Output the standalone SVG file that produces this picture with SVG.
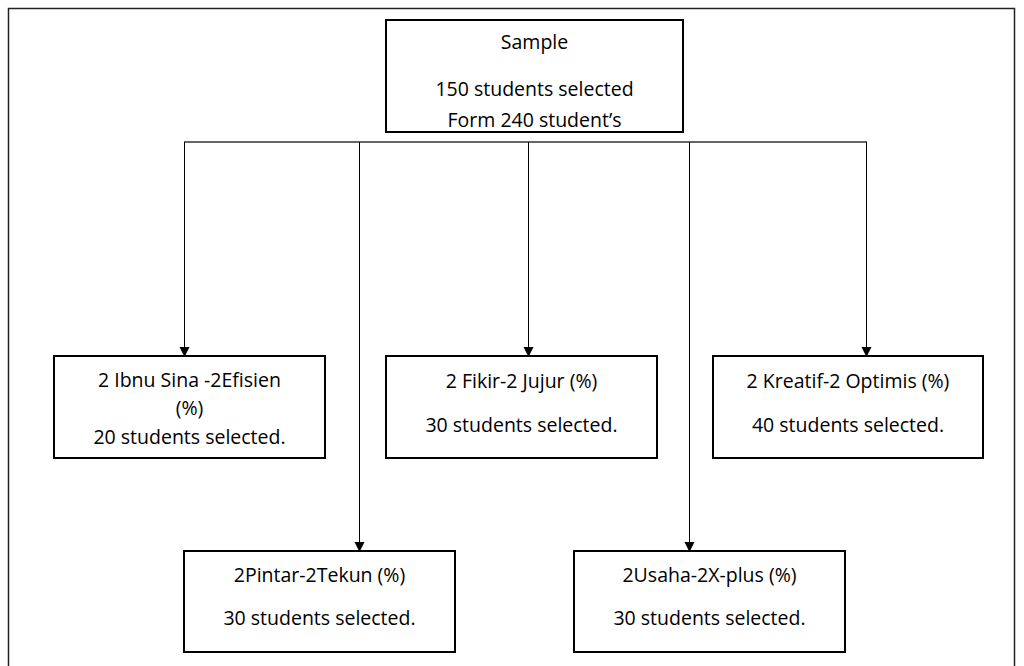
<svg xmlns="http://www.w3.org/2000/svg" width="1024" height="666" viewBox="0 0 1024 666">
<style>
.box{fill:#fff;stroke:#000;stroke-width:2}
.t{font-family:"Open Sans","Liberation Sans",sans-serif;font-size:19.5px;fill:#000;text-anchor:middle}
.c{fill:none;stroke:#000;stroke-width:1}
.h{fill:none;stroke:#666;stroke-width:2}
</style>
<defs>
<marker id="arr" markerWidth="10" markerHeight="11" refX="9" refY="5" orient="auto" markerUnits="userSpaceOnUse">
<path d="M0,0 L10,5 L0,10 z" fill="#000"/>
</marker>
</defs>
<rect x="0" y="0" width="1024" height="666" fill="#fff"/>
<path d="M8.5,670 V8.5 H1014.5 V670" fill="none" stroke="#222" stroke-width="1.5"/>
<g id="connectors">
<line class="h" x1="184" y1="142" x2="867" y2="142"/>
<line class="c" x1="184.5" y1="142" x2="184.5" y2="356" marker-end="url(#arr)"/>
<line class="c" x1="359.5" y1="142" x2="359.5" y2="551" marker-end="url(#arr)"/>
<line class="c" x1="528.5" y1="142" x2="528.5" y2="356" marker-end="url(#arr)"/>
<line class="c" x1="689.5" y1="142" x2="689.5" y2="551" marker-end="url(#arr)"/>
<line class="c" x1="866.5" y1="142" x2="866.5" y2="356" marker-end="url(#arr)"/>
</g>
<g id="sample">
<rect class="box" x="386" y="20" width="297" height="112"/>
<text class="t" x="534.5" y="49">Sample</text>
<text class="t" x="534.5" y="96">150 students selected</text>
<text class="t" x="534.5" y="127">Form 240 student’s</text>
</g>
<g id="ibnusina">
<rect class="box" x="54" y="356" width="271" height="102"/>
<text class="t" x="189.5" y="387">2 Ibnu Sina -2Efisien</text>
<text class="t" x="189.5" y="415">(%)</text>
<text class="t" x="189.5" y="444">20 students selected.</text>
</g>
<g id="fikir">
<rect class="box" x="386" y="356" width="271" height="102"/>
<text class="t" x="521.5" y="388">2 Fikir-2 Jujur (%)</text>
<text class="t" x="521.5" y="432">30 students selected.</text>
</g>
<g id="kreatif">
<rect class="box" x="713" y="356" width="270" height="102"/>
<text class="t" x="848" y="388">2 Kreatif-2 Optimis (%)</text>
<text class="t" x="848" y="432">40 students selected.</text>
</g>
<g id="pintar">
<rect class="box" x="184" y="551" width="271" height="101"/>
<text class="t" x="319.5" y="582">2Pintar-2Tekun (%)</text>
<text class="t" x="319.5" y="625">30 students selected.</text>
</g>
<g id="usaha">
<rect class="box" x="574" y="551" width="271" height="101"/>
<text class="t" x="709.5" y="582">2Usaha-2X-plus (%)</text>
<text class="t" x="709.5" y="625">30 students selected.</text>
</g>
</svg>
